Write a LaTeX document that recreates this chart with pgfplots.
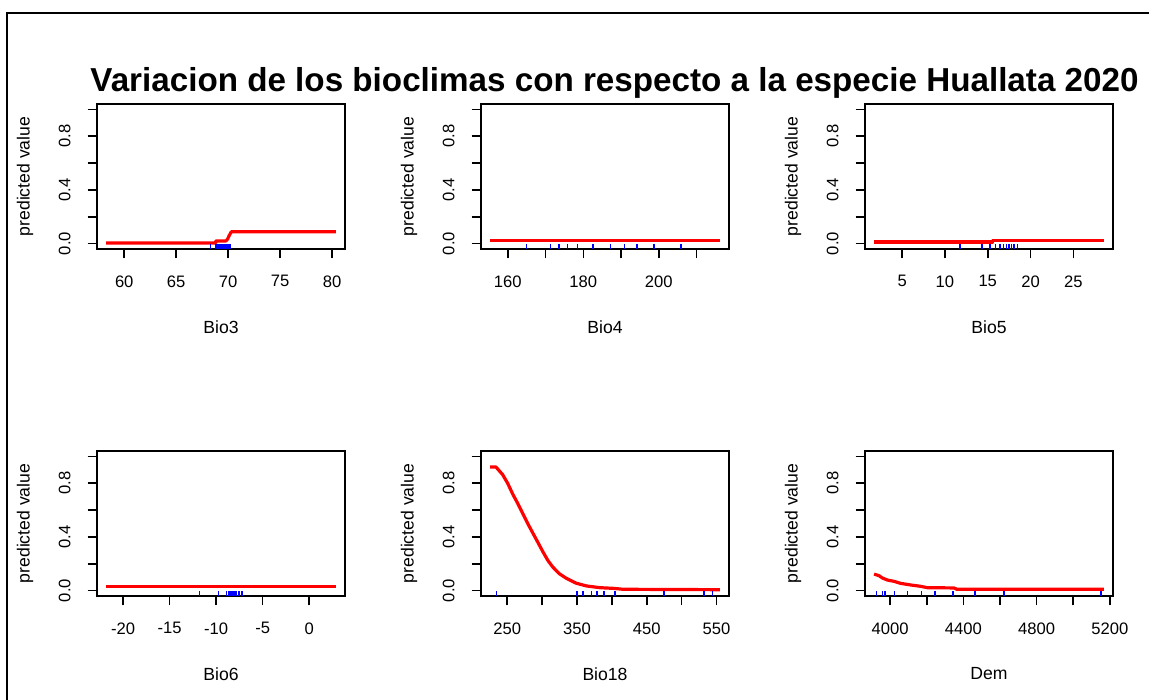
\documentclass[border=0pt]{standalone}
\usepackage{fontspec}
\setmainfont{Liberation Sans}
\usepackage{pgfplots}
\pgfplotsset{compat=1.18}

\pgfplotsset{
 rplot/.style={
  scale only axis, width=124pt, height=72.5pt,
  anchor=south west,
  ymin=-0.04, ymax=1.04,
  ytick={0,0.2,0.4,0.6,0.8,1},
  yticklabels={0.0,{},0.4,{},0.8,{}},
  tick align=outside, xtick pos=left, ytick pos=left,
  major tick length=4.7pt,
  tick style={black, line width=0.8pt},
  axis line style={line width=0.8pt},
  ticklabel style={font=\fontsize{8.3}{10}\selectfont},
  yticklabel style={rotate=90, anchor=south},
  xticklabel style={anchor=north},
  xticklabel shift=5pt,
  yticklabel shift=5pt,
  every axis x label/.style={at={(axis description cs:0.5,-0.538)}, anchor=center, font=\fontsize{8.8}{10}\selectfont},
  every axis y label/.style={at={(axis description cs:-0.290,0.5)}, anchor=center, rotate=90, font=\fontsize{8.8}{10}\selectfont},
  ylabel={predicted value},
 },
 curve/.style={red, line width=1.6pt, line join=round},
 rug/.style={only marks, blue, mark=|, mark size=1.2pt, mark options={line width=0.8pt}},
}

\begin{document}
\begin{tikzpicture}
\useasboundingbox (0,0) rectangle (574.5pt,350pt);
\draw[line width=0.9pt] (3.5pt,0) -- (3.5pt,343.5pt) -- (574.5pt,343.5pt);
\node[anchor=base, font=\fontsize{16.6}{18}\selectfont\bfseries] at (307.25pt,304pt) {Variacion de los bioclimas con respecto a la especie Huallata 2020};

% Bio3
\begin{axis}[rplot, at={(48.5pt,225.5pt)}, xmin=57.38, xmax=81.24,
  xtick={60,65,70,75,80}, xticklabels={60,65,70,75,80}, xlabel={Bio3}]
\addplot[curve] coordinates {(58.26,0.005) (68.8,0.005) (68.8,0.02) (69.8,0.02) (69.95,0.035) (70.1,0.06) (70.3,0.088) (80.36,0.088)};
\addplot[rug] coordinates {(68.3,-0.0238) (68.8,-0.0238) (69.0,-0.0238) (69.1,-0.0238) (69.2,-0.0238) (69.3,-0.0238) (69.5,-0.0238) (69.7,-0.0238) (69.8,-0.0238) (70.0,-0.0238) (70.2,-0.0238)};
\end{axis}

% Bio4
\begin{axis}[rplot, at={(240.5pt,225.5pt)}, xmin=152.9, xmax=218.6,
  xtick={160,170,180,190,200,210}, xticklabels={160,{},180,{},200,{}}, xlabel={Bio4}]
\addplot[curve] coordinates {(155.3,0.022) (216.2,0.022)};
\addplot[rug] coordinates {(165.0,-0.0238) (171.3,-0.0238) (173.6,-0.0238) (175.8,-0.0238) (178.5,-0.0238) (182.5,-0.0238) (187.2,-0.0238) (190.9,-0.0238) (194.3,-0.0238) (198.7,-0.0238) (205.9,-0.0238)};
\end{axis}

% Bio5
\begin{axis}[rplot, at={(432.5pt,225.5pt)}, xmin=0.66, xmax=29.64,
  xtick={5,10,15,20,25}, xticklabels={5,10,15,20,25}, xlabel={Bio5}]
\addplot[curve] coordinates {(1.73,0.012) (15.6,0.012) (15.6,0.025) (28.57,0.025)};
\addplot[rug] coordinates {(11.73,-0.0238) (14.3,-0.0238) (15.27,-0.0238) (15.93,-0.0238) (16.4,-0.0238) (16.83,-0.0238) (17.18,-0.0238) (17.49,-0.0238) (17.77,-0.0238) (18.07,-0.0238) (18.5,-0.0238)};
\end{axis}

% Bio6
\begin{axis}[rplot, at={(48.5pt,52pt)}, xmin=-22.82, xmax=3.86,
  xtick={-20,-15,-10,-5,0}, xticklabels={-20,-15,-10,-5,0}, xlabel={Bio6}]
\addplot[curve] coordinates {(-21.83,0.03) (2.87,0.03)};
\addplot[rug] coordinates {(-11.8,-0.0238) (-9.73,-0.0238) (-8.9,-0.0238) (-8.62,-0.0238) (-8.45,-0.0238) (-8.3,-0.0238) (-8.19,-0.0238) (-8.0,-0.0238) (-7.8,-0.0238) (-7.53,-0.0238) (-7.2,-0.0238)};
\end{axis}

% Bio18
\begin{axis}[rplot, at={(240.5pt,52pt)}, xmin=212.3, xmax=568.0,
  xtick={250,300,350,400,450,500,550}, xticklabels={250,{},350,{},450,{},550}, xlabel={Bio18}]
\addplot[curve] coordinates {(225.5,0.921) (233.7,0.921) (243.3,0.864) (250.5,0.8) (257.7,0.72) (264.9,0.65) (272.1,0.575) (279.3,0.5) (286.5,0.43) (293.8,0.36) (301,0.29) (308.2,0.225) (315.4,0.175) (324.9,0.125) (334.6,0.092) (349,0.055) (363.4,0.035) (382.6,0.022) (401.9,0.017) (416.3,0.010) (554.8,0.007)};
\addplot[rug] coordinates {(234.6,-0.0238) (349.0,-0.0238) (350.4,-0.0238) (358.6,-0.0238) (370.6,-0.0238) (378.8,-0.0238) (388.9,-0.0238) (404.8,-0.0238) (474.5,-0.0238) (531.7,-0.0238) (544.2,-0.0238)};
\end{axis}

% Dem
\begin{axis}[rplot, at={(432.5pt,52pt)}, xmin=3863, xmax=5217,
  xtick={4000,4200,4400,4600,4800,5000,5200}, xticklabels={4000,{},4400,{},4800,{},5200}, xlabel={Dem}]
\addplot[curve] coordinates {(3912.7,0.123) (3940,0.111) (3958,0.094) (3985,0.079) (4022,0.069) (4058,0.054) (4113,0.042) (4167,0.032) (4204,0.022) (4349,0.02) (4364,0.010) (5167,0.010)};
\addplot[rug] coordinates {(3925.5,-0.0238) (3958,-0.0238) (3973,-0.0238) (4025,-0.0238) (4095,-0.0238) (4171,-0.0238) (4245,-0.0238) (4344,-0.0238) (4464,-0.0238) (4622,-0.0238) (5151,-0.0238)};
\end{axis}
\end{tikzpicture}
\end{document}
